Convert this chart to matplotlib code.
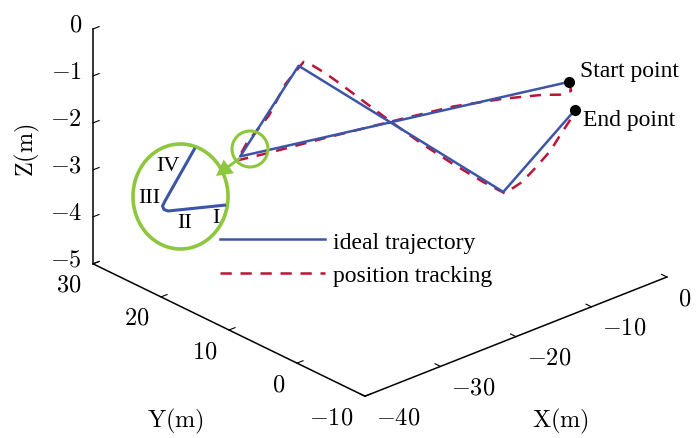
import numpy as np
import matplotlib
matplotlib.use("Agg")
import matplotlib.pyplot as plt
from matplotlib.patches import Ellipse
from matplotlib.ticker import NullFormatter
from mpl_toolkits.mplot3d import proj3d

plt.rcParams["mathtext.fontset"] = "cm"

# ideal trajectory waypoints (m)
ideal_x = [0.0, -37.8, -25.2, -13.3, 0.0]
ideal_y = [4.4, 10.8, 16.2, -0.7, 3.5]
ideal_z = [-1.86, -1.5, -0.75, -3.0, -2.39]

# measured position tracking (m)
trk_x = [0.0, 0.27, -1.04, -3.02, -7.56, -13.23, -18.9, -28.35, -34.78, -38.2,
         -36.18, -31.8, -27.92, -24.53, -24.37, -23.65, -22.70, -21.63, -19.85,
         -18.06, -16.28, -14.49, -13.1, -10.37, -7.84, -5.18, -3.06, -1.2, 0.0]
trk_y = [4.4, 4.4, 4.58, 4.91, 5.68, 6.64, 7.6, 9.2, 10.29, 10.8,
         11.61, 13.23, 15.12, 16.2, 15.02, 14.0, 12.65, 11.13, 8.6,
         6.06, 3.53, 0.99, -0.7, -0.2, 0.56, 1.4, 2.24, 2.95, 3.5]
trk_z = [-1.86, -2.07, -2.08, -1.98, -1.83, -1.70, -1.66, -1.61, -1.593, -1.56,
         -1.37, -1.18, -0.89, -0.71, -0.717, -0.851, -1.063, -1.319, -1.741,
         -2.143, -2.501, -2.828, -3.043, -3.011, -2.91, -2.788, -2.632, -2.503, -2.39]

x_ticks = [-40, -30, -20, -10, 0]
y_ticks = [-10, 0, 10, 20, 30]
z_ticks = [-5, -4, -3, -2, -1, 0]

# zoomed corner sketch (figure pixels)
inset_x = [195, 165, 162.5, 164, 168, 226]
inset_y = [149, 202, 207, 210.5, 212, 206]

blue = "#3d55a6"
red = "#bb1438"
green = "#8dc63f"
W, H = 700, 439
cm = {"size": 17.5}

fig = plt.figure(figsize=(7, 4.39), dpi=100)
ax = fig.add_axes([0.0, -0.3, 1.0, 1.6], projection="3d")
ax.set_proj_type("ortho")
ax.view_init(elev=26, azim=-132)
ax.set_box_aspect((1, 1, 0.643))

l1, = ax.plot(ideal_x, ideal_y, ideal_z, color=blue, lw=1.8, label="ideal trajectory", zorder=3)
l2, = ax.plot(trk_x, trk_y, trk_z, color=red, lw=1.8, ls=(0, (4.5, 3.5)),
              label="position tracking", zorder=2)
ax.plot([ideal_x[0], ideal_x[-1]], [ideal_y[0], ideal_y[-1]], [ideal_z[0], ideal_z[-1]],
        ls="none", marker="o", ms=7, color="k", zorder=5)

ax.set_xlim(-40, 0)
ax.set_ylim(-10, 30)
ax.set_zlim(-5, 0)
ax.set_xticks(x_ticks)
ax.set_yticks(y_ticks)
ax.set_zticks(z_ticks)
for a in (ax.xaxis, ax.yaxis, ax.zaxis):
    a.set_major_formatter(NullFormatter())
    a.set_pane_color((1, 1, 1, 0))
    a.pane.set_edgecolor((1, 1, 1, 0))
    a.line.set_color("k")
    a.line.set_linewidth(1.1)
    a._axinfo["tick"]["inward_factor"] = 0.0
    a._axinfo["tick"]["outward_factor"] = 0.25
ax.grid(False)
ax.tick_params(colors="k", width=1.0)


def to_px(p):
    xs, ys, _ = proj3d.proj_transform(*p, ax.get_proj())
    d = ax.transData.transform((xs, ys))
    return np.array([d[0], H - d[1]])


# fit the axes box so the axis corners land where they are in the original
fig.canvas.draw()
pts = [(-40, -10, -5), (0, -10, -5), (-40, 30, 0), (-40, 30, -5)]
targets = np.array([(365, 397), (667, 278), (93, 30), (93, 265)], float)
bb = ax.get_window_extent()
S = min(bb.width, bb.height)
c = np.array([bb.x0 + bb.width / 2, H - (bb.y0 + bb.height / 2)])
vs = np.array([(to_px(p) - c) / S for p in pts])
A = np.zeros((2 * len(vs), 3))
b = np.zeros(2 * len(vs))
for i, (v, t) in enumerate(zip(vs, targets)):
    A[2 * i] = [1, 0, v[0]]
    A[2 * i + 1] = [0, 1, v[1]]
    b[2 * i], b[2 * i + 1] = t
cx, cy, S2 = np.linalg.lstsq(A, b, rcond=None)[0]
ax.set_position([(cx - S2 / 2) / W, 1 - (cy + S2 / 2) / H, S2 / W, S2 / H])
fig.canvas.draw()

ax.legend(handles=[l1, l2], loc="center left", bbox_to_anchor=(220 / W, 1 - 259.5 / H),
          bbox_transform=fig.transFigure, frameon=False, handlelength=4.45,
          handletextpad=0.35, labelspacing=0.5, borderpad=0, borderaxespad=0,
          prop={"family": "Liberation Serif", "size": 17})

ov = fig.add_axes([0, 0, 1, 1])
ov.set_xlim(0, W)
ov.set_ylim(H, 0)
ov.axis("off")
ov.patch.set_alpha(0)

# tick labels in MATLAB-like positions
for t in x_ticks:
    px, py = to_px((t, -10, -5))
    ov.text(px + 11, py + 20, f"${t}$", ha="left", va="center", fontdict=cm)
for t in y_ticks:
    px, py = to_px((-40, t, -5))
    ov.text(px - 12, py + 20, f"${t}$", ha="right", va="center", fontdict=cm)
for t in z_ticks:
    px, py = to_px((-40, 30, t))
    ov.text(px - 11, py - 5, f"${t}$", ha="right", va="center", fontdict=cm)
ov.text(27, 150, r"$\mathrm{Z(m)}$", rotation=90, ha="center", va="center", fontdict=cm)
ov.text(176, 421, r"$\mathrm{Y(m)}$", ha="center", va="center", fontdict=cm)
ov.text(561, 421, r"$\mathrm{X(m)}$", ha="center", va="center", fontdict=cm)

ov.add_patch(Ellipse((180.5, 197.5), 95, 105, fill=False, ec=green, lw=2.6))
ov.add_patch(Ellipse((250, 150), 36, 36, fill=False, ec=green, lw=2.2))
ov.arrow(240, 159, -24, 18, width=3, head_width=17, head_length=16,
         length_includes_head=True, color=green, lw=0)
ov.plot(inset_x, inset_y, color=blue, lw=2.2, solid_capstyle="butt")
serif = {"family": "Liberation Serif", "size": 16}
for s, (tx, ty) in zip(["IV", "III", "II", "I"],
                        [(168, 167), (149, 199), (185, 224), (216, 219)]):
    ov.text(tx, ty, s, ha="center", va="center", fontdict=serif)
ov.text(580, 72, "Start point", ha="left", va="center",
        fontdict={"family": "Liberation Serif", "size": 17})
ov.text(583, 121, "End point", ha="left", va="center",
        fontdict={"family": "Liberation Serif", "size": 17})

fig.savefig("out.png", dpi=100)
